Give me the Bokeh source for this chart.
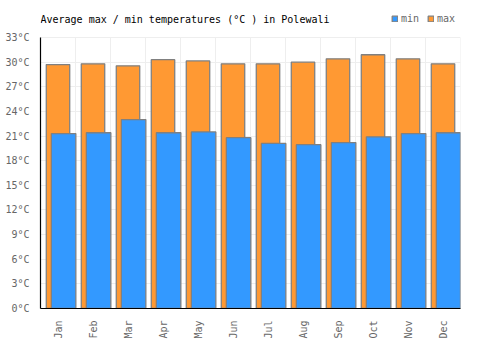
import numpy as np
from bokeh.plotting import figure
from bokeh.models import (Range1d, FixedTicker, PrintfTickFormatter, Legend, LegendItem,
                          ColumnDataSource, Label)
from bokeh.embed import file_html
from bokeh.resources import INLINE

months = ["Jan", "Feb", "Mar", "Apr", "May", "Jun", "Jul", "Aug", "Sep", "Oct", "Nov", "Dec"]
t_max = [29.7, 29.8, 29.55, 30.3, 30.15, 29.8, 29.8, 30.0, 30.4, 30.9, 30.4, 29.8]
t_min = [21.3, 21.4, 23.0, 21.4, 21.5, 20.8, 20.1, 19.95, 20.2, 20.9, 21.3, 21.4]
y_ticks = list(range(0, 34, 3))
title_text = "Average max / min temperatures (°C ) in Polewali"

FONT = "DejaVu Sans Mono"
Y_TOP = 33
H, BOTTOM = 350, 42
frame_h = H - BOTTOM          # frame spans the whole top so title/legend sit inside it
px_per_unit = (frame_h - 37) / Y_TOP
y_end = frame_h / px_per_unit

idx = np.arange(len(months))
src = ColumnDataSource(dict(
    x_max=idx + 0.5,
    x_min=idx + 0.5 + 0.16,
    t_max=t_max,
    t_min=t_min,
))

p = figure(width=500, height=H, output_backend="svg", toolbar_location=None,
           x_range=Range1d(0, len(months)), y_range=Range1d(0, y_end),
           min_border_left=40, min_border_right=40, min_border_top=0,
           min_border_bottom=BOTTOM)
p.title.visible = False

# vertical grid lines (category boundaries), limited to the 0..33 band
bounds_x = list(range(0, len(months) + 1))
p.segment(x0=bounds_x, y0=[0] * len(bounds_x), x1=bounds_x, y1=[Y_TOP] * len(bounds_x),
          line_color="#eeeeee", line_width=1)

r_max = p.vbar(x="x_max", top="t_max", bottom=0, width=0.67, source=src,
               fill_color="#ff9933", line_color="#808080", line_width=1.3)
r_min = p.vbar(x="x_min", top="t_min", bottom=0, width=0.70, source=src,
               fill_color="#3399ff", line_color="#808080", line_width=1.3)

# axes
p.xaxis.ticker = FixedTicker(ticks=list(idx + 0.5))
p.xaxis.major_label_overrides = {float(i + 0.5): m for i, m in enumerate(months)}
p.xaxis.major_label_orientation = np.pi / 2
p.yaxis.ticker = FixedTicker(ticks=y_ticks)
p.yaxis.formatter = PrintfTickFormatter(format="%d°C")
p.yaxis.bounds = (0, Y_TOP)
for ax in (p.xaxis[0], p.yaxis[0]):
    ax.major_label_text_font = FONT
    ax.major_label_text_font_size = "10px"
    ax.major_label_text_color = "#666666"
    ax.major_tick_line_color = None
    ax.minor_tick_line_color = None
    ax.axis_line_color = "#000000"
    ax.axis_line_width = 1.2
p.xaxis.major_label_standoff = 6
p.yaxis.major_label_standoff = 5

# grid
p.xgrid.visible = False
p.ygrid.ticker = FixedTicker(ticks=y_ticks)
p.ygrid.grid_line_color = "#eeeeee"
p.outline_line_color = None

title = Label(x=0, y=y_end - 19 / px_per_unit, text=title_text,
              text_font=FONT, text_font_size="10px", text_color="#000000",
              text_baseline="middle", text_align="left")
p.add_layout(title)

legend = Legend(items=[LegendItem(label="min", renderers=[r_min]),
                       LegendItem(label="max", renderers=[r_max])],
                orientation="horizontal", location=(351, frame_h - 24))
legend.glyph_width = 7
legend.glyph_height = 7
legend.label_standoff = 3
legend.spacing = 6
legend.padding = 0
legend.margin = 0
legend.border_line_color = None
legend.background_fill_alpha = 0
legend.label_text_font = FONT
legend.label_text_font_size = "10px"
legend.label_text_color = "#666666"
legend.label_height = 10
legend.label_text_baseline = "middle"
p.add_layout(legend)

open("out.html", "w").write(file_html(p, INLINE))
